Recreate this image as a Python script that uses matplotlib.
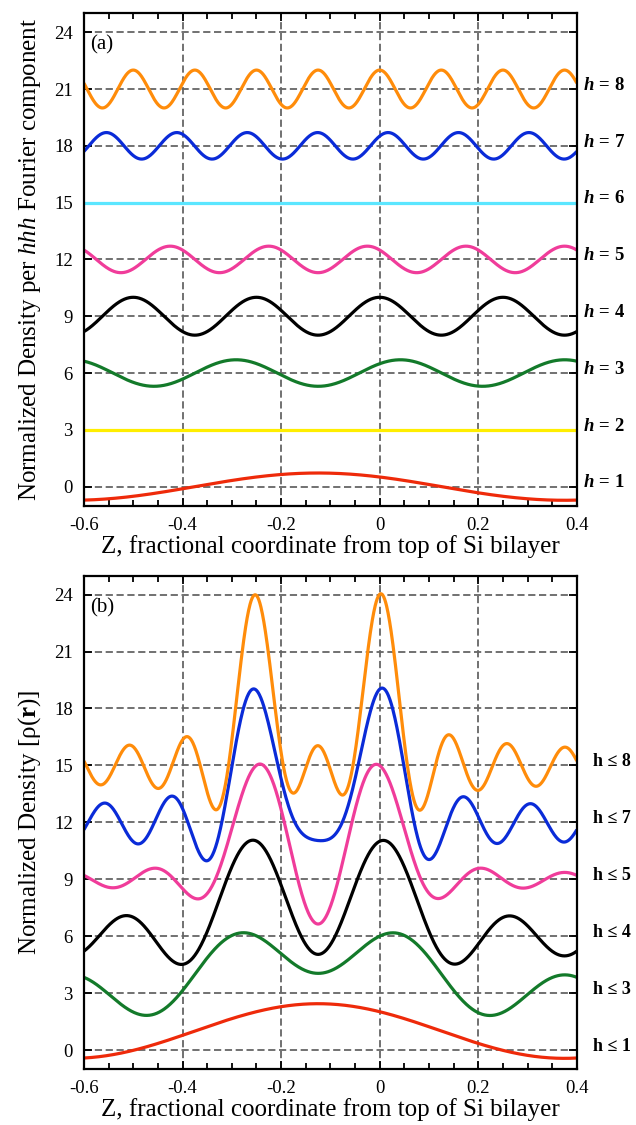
import numpy as np
import matplotlib
matplotlib.use('agg')
import matplotlib.pyplot as plt
from matplotlib.ticker import MultipleLocator
import matplotlib.transforms as mtransforms

plt.rcParams['font.family'] = ['Liberation Serif', 'DejaVu Serif']
plt.rcParams['mathtext.fontset'] = 'custom'
plt.rcParams['mathtext.rm'] = 'Liberation Serif'
plt.rcParams['mathtext.it'] = 'Liberation Serif:italic:bold'
plt.rcParams['mathtext.bf'] = 'Liberation Serif:bold'
plt.rcParams['mathtext.sf'] = 'Liberation Serif:italic'
plt.rcParams['axes.unicode_minus'] = False

## Fourier components of the Si(111) density, hhh reflections
harmonics = [1, 2, 3, 4, 5, 6, 7, 8]
amp_h     = [0.72, 0.0, 0.70, 1.00, 0.70, 0.0, 0.70, 1.00]   # amplitude per component
zpeak_h   = [-0.125, 0.0, 0.042, 0.0, -0.025, 0.0, 0.017, 0.0] # position of a maximum
offset_a  = [0, 3, 6, 9, 12, 15, 18, 21]
colors_a  = ['#EE2A0A', '#FFEE00', '#137A2A', '#000000',
             '#F03C9A', '#5BE6FF', '#0A2BD8', '#FF8C0A']

## partial sums h <= hmax
rho0      = 1.0
hmax_b    = [1, 3, 4, 5, 7, 8]
offset_b  = [0, 3, 6, 9, 12, 15]
colors_b  = ['#EE2A0A', '#137A2A', '#000000', '#F03C9A', '#0A2BD8', '#FF8C0A']

Xlabel = 'Z, fractional coordinate from top of Si bilayer'
Ylabel_a = r'Normalized Density per $\mathsf{hhh}$ Fourier component'
Ylabel_b = r'Normalized Density [ρ($\mathbf{r}$)]'

z = np.linspace(-0.6, 0.4, 1001)

def componente(i):
    h = harmonics[i]
    return amp_h[i] * np.cos(2 * np.pi * h * (z - zpeak_h[i]))

def FormatoEje(ax, Ylabel):
    ax.set_xlim(-0.6, 0.4)
    ax.set_ylim(-1, 25)
    ax.xaxis.set_minor_locator(MultipleLocator(0.05))
    ax.yaxis.set_major_locator(MultipleLocator(3))
    ax.set_xticks([-0.6, -0.4, -0.2, 0, 0.2, 0.4])
    ax.set_xticklabels(['-0.6', '-0.4', '-0.2', '0', '0.2', '0.4'])
    ax.tick_params(which='both', direction='in', top=True, right=True,
                   labelsize=13.5, width=1.3, pad=8)
    ax.tick_params(which='major', length=6)
    ax.tick_params(which='minor', length=4)
    ax.tick_params(axis='y', which='minor', left=False, right=False)
    ax.grid(which='major', color='0.4', linestyle=(0, (4, 2)), linewidth=1.3)
    for s in ax.spines.values():
        s.set_linewidth(1.6)
    ax.set_xlabel(Xlabel, fontsize=18, labelpad=1)
    ax.set_ylabel(Ylabel, fontsize=18, labelpad=8)

fig = plt.figure(figsize=(6.36, 11.25), dpi=100)
ax1 = fig.add_axes([0.132, 0.5506, 0.775, 0.4376])
ax2 = fig.add_axes([0.132, 0.0498, 0.775, 0.4385])

# (a) componentes individuales
trans1 = mtransforms.blended_transform_factory(ax1.transAxes, ax1.transData)
for i, h in enumerate(harmonics):
    ax1.plot(z, offset_a[i] + componente(i), color=colors_a[i], lw=2.3,
             solid_capstyle='butt')
    ax1.text(1.012, offset_a[i] + 0.2, r'$h\mathbf{\,=\,%d}$' % h,
             transform=trans1, fontsize=13.5, va='center', ha='left')
ax1.text(0.012, 0.955, '(a)', transform=ax1.transAxes, fontsize=15,
         va='top', ha='left')
FormatoEje(ax1, Ylabel_a)

# (b) sumas parciales
trans2 = mtransforms.blended_transform_factory(ax2.transAxes, ax2.transData)
for j, hm in enumerate(hmax_b):
    rho = rho0 + 2 * sum(componente(i) for i in range(hm))
    ax2.plot(z, offset_b[j] + rho, color=colors_b[j], lw=2.3,
             solid_capstyle='butt')
    ax2.text(1.033, offset_b[j] + 0.2, 'h ≤ %d' % hm, transform=trans2,
             fontsize=13, fontweight='bold', va='center', ha='left')
ax2.text(0.012, 0.955, '(b)', transform=ax2.transAxes, fontsize=15,
         va='top', ha='left')
FormatoEje(ax2, Ylabel_b)

plt.savefig('out.png', dpi=100)
